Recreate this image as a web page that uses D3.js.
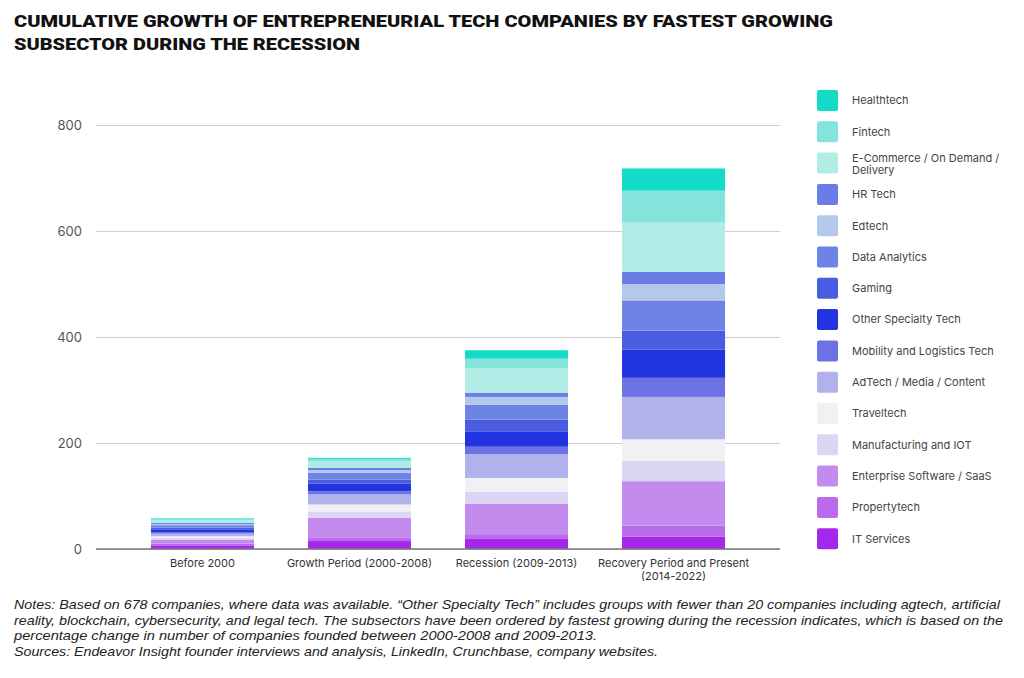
<!DOCTYPE html>
<html>
<head>
<meta charset="utf-8">
<script src="https://cdn.jsdelivr.net/npm/d3@7"></script>
<style>
  body { margin: 0; background: #fff; }
  svg { display: block; }
</style>
</head>
<body>
<svg id="chart" width="1024" height="678"></svg>
<script>
// periods on the x axis
const periods = ["Before 2000", "Growth Period (2000-2008)", "Recession (2009-2013)", "Recovery Period and Present (2014-2022)"];

// subsectors, bottom of the stack first
const subsectors = [
  "IT Services", "Propertytech", "Enterprise Software / SaaS", "Manufacturing and IOT",
  "Traveltech", "AdTech / Media / Content", "Mobility and Logistics Tech", "Other Specialty Tech",
  "Gaming", "Data Analytics", "Edtech", "HR Tech",
  "E-Commerce / On Demand / Delivery", "Fintech", "Healthtech"
];

// cumulative companies per subsector, same order as subsectors
const before2000 = [7, 3, 7, 4, 3, 5, 2, 5, 4, 5, 2, 2, 5, 3, 1];
const growth = [15, 6, 38, 12, 13, 19, 6, 14, 8, 13, 5, 4, 13, 4, 2];
const recession = [19, 9, 57, 23, 26, 45, 14, 28, 23, 28, 15, 8, 46, 18, 16];
const recovery = [23, 21, 84, 39, 40, 80, 36, 53, 36, 57, 31, 23, 93, 60, 42];

const yTicks = [0, 200, 400, 600, 800];

const colors = [
  "#a528ea", "#b96beb", "#c48bee", "#dcd6f4", "#f1f1f3", "#b1b2ec", "#6c72e6", "#2234df",
  "#4a5de1", "#6d84e6", "#b4c8ec", "#6a7ce7", "#b0ebe5", "#82e4da", "#14dbc8"
];

const svg = d3.select("#chart");

// title
const title = svg.append("g")
  .attr("font-family", "Roboto, 'Liberation Sans', sans-serif")
  .attr("font-weight", 900)
  .attr("font-size", 17)
  .attr("fill", "#111");
title.append("text").attr("x", 14).attr("y", 27)
  .attr("textLength", 819).attr("lengthAdjust", "spacingAndGlyphs")
  .text("CUMULATIVE GROWTH OF ENTREPRENEURIAL TECH COMPANIES BY FASTEST GROWING");
title.append("text").attr("x", 14).attr("y", 50)
  .attr("textLength", 346).attr("lengthAdjust", "spacingAndGlyphs")
  .text("SUBSECTOR DURING THE RECESSION");

// build table for stacking
const table = periods.map((p, i) => {
  const row = { period: p };
  const cols = [before2000, growth, recession, recovery];
  subsectors.forEach((s, j) => { row[s] = cols[i][j]; });
  return row;
});

const x = d3.scaleBand().domain(periods).range([96, 780]).paddingInner(0.344).paddingOuter(0.35);
const y = d3.scaleLinear().domain([0, 800]).range([549, 125]);
const color = d3.scaleOrdinal().domain(subsectors).range(colors);

// gridlines + y labels
const yAxis = svg.append("g").attr("transform", "translate(96,0)")
  .call(d3.axisLeft(y).tickValues(yTicks).tickSize(-684).tickPadding(14));
yAxis.select(".domain").remove();
yAxis.selectAll(".tick line").attr("stroke", "#cfcfcf").attr("stroke-width", 1.2);
yAxis.selectAll(".tick text")
  .attr("font-family", "Inter, 'Liberation Sans', sans-serif")
  .attr("font-size", 13).attr("fill", "#555");

// stacked bars
const stack = d3.stack().keys(subsectors)(table);
svg.append("g").selectAll("g").data(stack).join("g")
  .attr("fill", d => color(d.key))
  .selectAll("rect").data(d => d).join("rect")
  .attr("x", d => x(d.data.period))
  .attr("width", x.bandwidth())
  .attr("y", d => y(d[1]))
  .attr("height", d => y(d[0]) - y(d[1]));

// baseline
svg.append("line").attr("x1", 96).attr("x2", 780).attr("y1", y(0)).attr("y2", y(0))
  .attr("stroke", "#777").attr("stroke-width", 1.5);

// x labels
const xl = svg.append("g")
  .attr("font-family", "Inter, 'Liberation Sans', sans-serif")
  .attr("font-size", 11).attr("fill", "#333").attr("text-anchor", "middle");
periods.forEach(p => {
  const cx = x(p) + x.bandwidth() / 2;
  const lines = p.startsWith("Recovery") ? ["Recovery Period and Present", "(2014-2022)"] : [p];
  lines.forEach((l, k) => {
    xl.append("text").attr("x", cx).attr("y", 567 + k * 13).text(l);
  });
});

// legend, top entry first
const legendKeys = subsectors.slice().reverse();
const lg = svg.append("g").attr("font-family", "Inter, 'Liberation Sans', sans-serif")
  .attr("font-size", 11).attr("fill", "#444");
legendKeys.forEach((k, i) => {
  const top = 90 + i * 31.3;
  lg.append("rect").attr("x", 817).attr("y", top).attr("width", 21).attr("height", 21)
    .attr("rx", 2).attr("fill", color(k));
  if (k.startsWith("E-Commerce")) {
    lg.append("text").attr("x", 852).attr("y", top + 6).attr("dy", "0.35em").text("E-Commerce / On Demand /");
    lg.append("text").attr("x", 852).attr("y", top + 18).attr("dy", "0.35em").text("Delivery");
  } else {
    lg.append("text").attr("x", 852).attr("y", top + 10.5).attr("dy", "0.35em").text(k);
  }
});

// notes
const notes = [
  ["Notes: Based on 678 companies, where data was available. \u201cOther Specialty Tech\u201d includes groups with fewer than 20 companies including agtech, artificial", 986],
  ["reality, blockchain, cybersecurity, and legal tech. The subsectors have been ordered by fastest growing during the recession indicates, which is based on the", 989],
  ["percentage change in number of companies founded between 2000-2008 and 2009-2013.", 583],
  ["Sources: Endeavor Insight founder interviews and analysis, LinkedIn, Crunchbase, company websites.", 644]
];
const nt = svg.append("g").attr("font-family", "'Liberation Sans Narrow', 'Liberation Sans', sans-serif")
  .attr("font-style", "italic").attr("font-size", 13).attr("fill", "#222");
notes.forEach((n, i) => {
  nt.append("text").attr("x", 14).attr("y", 609 + i * 15.7)
    .attr("textLength", n[1]).attr("lengthAdjust", "spacingAndGlyphs").text(n[0]);
});
</script>
</body>
</html>
